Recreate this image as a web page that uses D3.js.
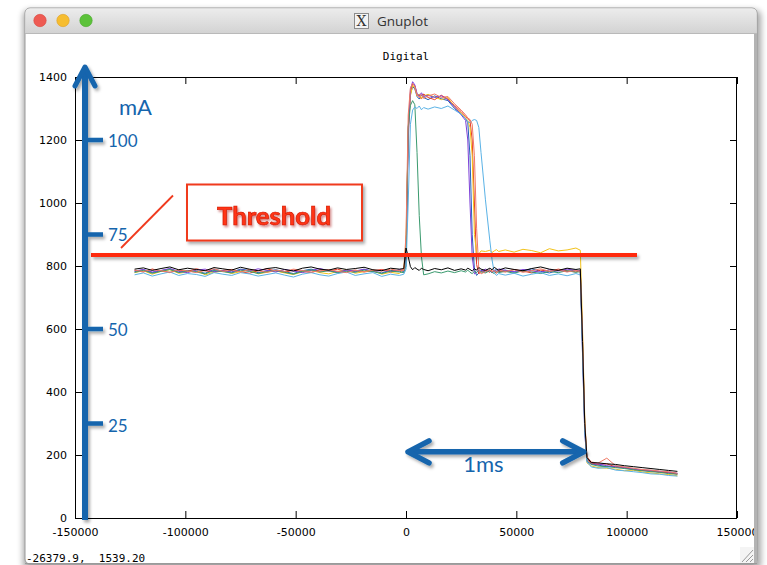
<!DOCTYPE html>
<html><head><meta charset="utf-8">
<script src="https://cdn.jsdelivr.net/npm/d3@7"></script>
<style>
html,body{margin:0;padding:0;background:#fff;}
svg{display:block;}
</style></head><body>
<svg id="c" width="767" height="565"></svg>
<script>
const windowTitle = "Gnuplot";
const chartTitle = "Digital";
const statusText = "-26379.9,  1539.20";
const xTicks = [-150000,-100000,-50000,0,50000,100000,150000];
const yTicks = [0,200,400,600,800,1000,1200,1400];
const mATicks = [25,50,75,100];
const mAUnit = "mA";
const thresholdValue = 835;
const thresholdLabel = "Threshold";
const spanLabel = "1ms";
const spanStart = 0, spanEnd = 81000, spanLevel = 210;

const xValues = [
-123000,-119000,-115000,-111000,-107000,-103000,-99000,-95000,-91000,-87000,
-83000,-79000,-75000,-71000,-67000,-63000,-59000,-55000,-51000,-47000,
-43000,-39000,-35000,-31000,-27000,-23000,-19000,-15000,-11000,-7000,
-3000,-1000,0,1000,2000,3000,4000,5000,6000,7000,
8000,10000,13000,16000,19000,22000,25000,27000,28000,29000,
30000,31000,32000,33000,34000,36000,38000,39000,40000,41000,
42000,45000,49000,53000,57000,61000,65000,69000,73000,77000,
79000,80000,81000,82000,84000,87000,91000,95000,99000,103000,
107000,111000,115000,119000,123000];

const blueRun = [
782,788,779,785,791,780,786,783,777,789,
784,781,790,786,779,784,788,782,776,785,
790,783,787,780,785,782,789,784,778,786,
783,781,830,1240,1345,1370,1362,1338,1330,1342,
1335,1328,1340,1331,1325,1300,1282,1268,1255,1150,
900,790,770,778,786,781,788,779,784,790,
782,787,780,785,791,783,778,786,782,788,
783,560,300,190,172,168,163,165,158,156,
152,149,147,143,141];
const redRun = [
786,781,790,784,779,787,783,791,785,780,
786,789,782,777,785,791,784,780,787,783,
779,788,784,790,782,787,781,785,789,783,
787,788,835,1230,1350,1378,1372,1345,1338,1330,
1346,1335,1328,1342,1330,1310,1290,1275,1268,1262,
1200,1000,805,775,782,787,780,789,783,777,
785,781,789,784,778,787,783,790,785,781,
786,540,285,185,175,170,172,162,160,154,
151,150,145,144,139];
const yellowRun = [
779,785,774,783,788,777,781,786,772,780,
784,776,782,787,775,780,785,778,773,781,
786,779,775,783,788,777,782,786,774,780,
776,790,880,1220,1340,1372,1368,1340,1346,1332,
1340,1345,1336,1328,1335,1305,1285,1270,1262,1240,
1150,900,842,838,848,846,850,843,848,852,
846,851,844,853,849,842,855,848,851,857,
850,600,320,175,165,160,158,155,150,152,
146,143,140,138,134];
const purpleRun = [
784,789,781,786,792,783,779,787,790,782,
785,780,788,784,791,786,781,789,784,779,
786,792,785,781,787,784,790,783,786,781,
788,784,800,1200,1360,1385,1375,1348,1340,1350,
1338,1342,1335,1340,1328,1305,1280,1262,1200,1000,
830,775,780,788,783,790,784,779,787,783,
791,786,782,789,785,780,788,784,790,786,
784,520,270,180,170,172,166,162,161,155,
153,151,148,146,142];
const greenRun = [
780,786,777,783,789,779,784,781,775,786,
782,778,787,783,776,782,786,780,774,783,
788,781,785,778,783,780,787,782,776,784,
781,779,800,1240,1310,1325,1312,1160,960,830,
772,775,782,778,784,779,785,781,787,780,
776,783,779,786,781,778,785,780,776,784,
779,783,777,785,781,776,783,779,785,780,
782,550,290,182,170,165,163,160,157,153,
150,147,145,141,139];
const lightBlueRun = [
772,778,768,775,781,770,776,773,767,779,
774,770,779,775,768,773,778,771,765,774,
779,772,768,776,781,770,775,779,767,774,
770,774,790,1000,1250,1295,1305,1300,1308,1296,
1303,1298,1305,1300,1308,1295,1282,1268,1258,1255,
1262,1265,1262,1240,1160,1010,880,820,778,770,
776,771,777,768,774,779,770,775,769,776,
772,520,275,178,162,158,160,152,150,147,
144,140,139,135,133];
const salmonRun = [
787,782,790,785,780,788,784,779,786,791,
783,787,781,789,785,780,787,783,790,786,
781,784,789,783,779,786,782,788,784,790,
785,786,900,1280,1365,1380,1370,1342,1335,1345,
1332,1340,1346,1335,1338,1315,1295,1280,1270,1265,
1250,1150,920,790,775,782,788,781,786,780,
787,783,788,780,785,791,783,787,781,786,
783,580,310,195,178,174,190,166,162,158,
154,152,149,147,142];
const blackRun = [
790,794,786,792,797,788,793,789,785,795,
791,787,796,790,785,792,795,789,784,793,
797,790,787,794,789,792,796,788,785,793,
790,792,857,830,798,788,795,790,786,793,
789,785,792,788,794,786,791,787,793,789,
784,791,787,795,790,786,793,788,796,791,
787,794,789,785,792,797,790,786,793,789,
791,560,300,192,176,175,172,170,166,163,
160,157,154,151,148];

const seriesNames = ["blue","red","yellow","purple","green","lightblue","salmon","black"];
const seriesData = [blueRun,redRun,yellowRun,purpleRun,greenRun,lightBlueRun,salmonRun,blackRun];
const seriesColors = ["#2460b8","#e83a26","#f2c21a","#7d3fd8","#3a9a6e","#5ab2e6","#f07a66","#000000"];

const svg = d3.select("#c");
const defs = svg.append("defs");
const sh = defs.append("filter").attr("id","sh").attr("filterUnits","userSpaceOnUse")
  .attr("x",0).attr("y",0).attr("width",767).attr("height",565);
sh.append("feDropShadow").attr("dx",2).attr("dy",2.5).attr("stdDeviation",1.4)
  .attr("flood-color","#000").attr("flood-opacity",0.33);
const blur = defs.append("filter").attr("id","blur").attr("filterUnits","userSpaceOnUse")
  .attr("x",0).attr("y",0).attr("width",767).attr("height",565);
blur.append("feGaussianBlur").attr("stdDeviation",3);
const glow = defs.append("filter").attr("id","glow").attr("filterUnits","userSpaceOnUse")
  .attr("x",0).attr("y",0).attr("width",767).attr("height",565);
glow.append("feDropShadow").attr("dx",1.5).attr("dy",2).attr("stdDeviation",1.2)
  .attr("flood-color","#a00000").attr("flood-opacity",0.45);
const tg = defs.append("linearGradient").attr("id","tb").attr("x1",0).attr("x2",0).attr("y1",0).attr("y2",1);
tg.append("stop").attr("offset",0).attr("stop-color","#ececec");
tg.append("stop").attr("offset",1).attr("stop-color","#d3d3d3");
defs.append("clipPath").attr("id","body").append("rect")
  .attr("x",26).attr("y",34).attr("width",728).attr("height",529);

// window
svg.append("rect").attr("x",23).attr("y",10).attr("width",738).attr("height",560).attr("rx",6)
  .attr("fill","#000").attr("opacity",0.35).attr("filter","url(#blur)");
svg.append("rect").attr("x",25).attr("y",8).attr("width",732).attr("height",556).attr("rx",5)
  .attr("fill","#fff").attr("stroke","#9a9a9a").attr("stroke-width",1);
svg.append("path").attr("d","M25.5,33 V13 Q25.5,8.5 30.5,8.5 H751.5 Q756.5,8.5 756.5,13 V33 Z")
  .attr("fill","url(#tb)");
svg.append("line").attr("x1",25).attr("x2",757).attr("y1",33.5).attr("y2",33.5).attr("stroke","#b9b9b9");
[["#ee5b53","#d8463e",40],["#f6bd30","#dea026",63],["#5cc23a","#49a82c",86]].forEach(d=>{
  svg.append("circle").attr("cx",d[2]).attr("cy",20.5).attr("r",6.2).attr("fill",d[0]).attr("stroke",d[1]).attr("stroke-width",0.6);
});
svg.append("rect").attr("x",354.5).attr("y",13.5).attr("width",14).attr("height",15)
  .attr("fill","#f3f3f3").attr("stroke","#8c8c8c");
svg.append("text").attr("x",361.5).attr("y",26).attr("text-anchor","middle")
  .attr("font-family","DejaVu Serif").attr("font-size",14).attr("fill","#333").text("X");
svg.append("text").attr("x",377).attr("y",25.5).attr("font-family","Open Sans")
  .attr("font-size",13.5).attr("fill","#333").text(windowTitle);

const body = svg.append("g").attr("clip-path","url(#body)");

const L=75,R=737,T=77,B=518;
const x = d3.scaleLinear().domain([-150000,150000]).range([L,R]);
const y = d3.scaleLinear().domain([0,1400]).range([B,T]);
const yMA = d3.scaleLinear().domain([0,1400/12]).range([B,T]);

body.append("text").attr("x",(L+R)/2).attr("y",60).attr("text-anchor","middle")
  .attr("font-family","DejaVu Sans Mono").attr("font-size",11).attr("fill","#000").text(chartTitle);

const fmt = d => String(d);
const axL = body.append("g").attr("transform",`translate(${L},0)`)
  .call(d3.axisLeft(y).tickValues(yTicks).tickSize(-7).tickPadding(8).tickFormat(fmt));
const axR = body.append("g").attr("transform",`translate(${R},0)`)
  .call(d3.axisRight(y).tickValues(yTicks).tickSize(-7).tickFormat(""));
const axB = body.append("g").attr("transform",`translate(0,${B})`)
  .call(d3.axisBottom(x).tickValues(xTicks).tickSize(-7).tickPadding(10).tickFormat(fmt));
const axT = body.append("g").attr("transform",`translate(0,${T})`)
  .call(d3.axisTop(x).tickValues(xTicks).tickSize(-7).tickFormat(""));
[axL,axR,axB,axT].forEach(a=>{
  a.select(".domain").remove();
  a.selectAll("line").attr("stroke","#000");
  a.selectAll("text").attr("font-family","DejaVu Sans").attr("font-size",11).attr("fill","#000");
});
body.append("rect").attr("x",L+0.5).attr("y",T+0.5).attr("width",R-L-1).attr("height",B-T)
  .attr("fill","none").attr("stroke","#000").attr("stroke-width",1);

const line = d3.line().x((d,i)=>x(xValues[i])).y(d=>y(d));
const plotG = body.append("g");
seriesData.forEach((s,k)=>{
  plotG.append("path").datum(s).attr("d",line).attr("fill","none")
    .attr("stroke",seriesColors[k]).attr("stroke-width",1).attr("stroke-linejoin","round")
    .attr("class","series-"+seriesNames[k]);
});

// annotations
const blue = "#1565ad";
const red = "#ff2a0a";
const ann = body.append("g");
ann.append("line").attr("x1",91).attr("x2",637).attr("y1",y(thresholdValue)).attr("y2",y(thresholdValue))
  .attr("stroke",red).attr("stroke-width",4).attr("filter","url(#sh)");
ann.append("rect").attr("x",187).attr("y",184.5).attr("width",175).attr("height",56)
  .attr("fill","#fff").attr("stroke","#f03a1e").attr("stroke-width",2).attr("filter","url(#sh)");
ann.append("text").attr("x",274).attr("y",225).attr("text-anchor","middle")
  .attr("font-family","Lato").attr("font-weight","bold").attr("font-size",24)
  .attr("textLength",114).attr("lengthAdjust","spacingAndGlyphs")
  .attr("fill","#ff3418").attr("stroke","#d01800").attr("stroke-width",0.6)
  .attr("filter","url(#glow)").text(thresholdLabel);
ann.append("line").attr("x1",121).attr("y1",248).attr("x2",173).attr("y2",195.5)
  .attr("stroke","#f03a1e").attr("stroke-width",1.8);

const va = ann.append("g").attr("filter","url(#sh)");
va.append("line").attr("x1",85).attr("x2",85).attr("y1",y(0)+2).attr("y2",67)
  .attr("stroke",blue).attr("stroke-width",6);
va.append("path").attr("d","M75,86 L85,67 L95,86").attr("fill","none")
  .attr("stroke",blue).attr("stroke-width",5).attr("stroke-linecap","round").attr("stroke-linejoin","round");
mATicks.forEach(m=>{
  va.append("line").attr("x1",86).attr("x2",103).attr("y1",yMA(m)).attr("y2",yMA(m))
    .attr("stroke",blue).attr("stroke-width",4.5);
});
mATicks.forEach(m=>{
  ann.append("text").attr("x",108).attr("y",yMA(m)+(m===25?8.5:6.5)).attr("font-family","Lato")
    .attr("font-size",17).attr("fill",blue).text(String(m));
});
ann.append("text").attr("x",119).attr("y",115).attr("font-family","Lato")
  .attr("font-size",22).attr("fill",blue).text(mAUnit);

const ha = ann.append("g").attr("filter","url(#sh)");
const hy = y(spanLevel), hx0 = x(spanStart)+2, hx1 = x(spanEnd)-1;
ha.append("line").attr("x1",hx0+3).attr("x2",hx1-3).attr("y1",hy).attr("y2",hy)
  .attr("stroke",blue).attr("stroke-width",5.5);
ha.append("path").attr("d",`M${hx0+21},${hy-11} L${hx0},${hy} L${hx0+21},${hy+11}`).attr("fill","none")
  .attr("stroke",blue).attr("stroke-width",5.5).attr("stroke-linecap","round").attr("stroke-linejoin","round");
ha.append("path").attr("d",`M${hx1-21},${hy-11} L${hx1},${hy} L${hx1-21},${hy+11}`).attr("fill","none")
  .attr("stroke",blue).attr("stroke-width",5.5).attr("stroke-linecap","round").attr("stroke-linejoin","round");
ann.append("text").attr("x",x((spanStart+spanEnd)/2)-12).attr("y",472).attr("text-anchor","middle")
  .attr("font-family","Lato").attr("font-size",22).attr("fill",blue).text(spanLabel);

body.append("text").attr("x",26).attr("y",562).attr("font-family","DejaVu Sans Mono").attr("font-size",11)
  .attr("fill","#000").attr("xml:space","preserve").style("white-space","pre").text(statusText);

svg.append("rect").attr("x",754).attr("y",34).attr("width",3).attr("height",530).attr("fill","#b3b3b3");
const grip = svg.append("g");
grip.append("rect").attr("x",740).attr("y",547).attr("width",14).attr("height",16).attr("fill","#f4f4f4");
[[742,562,753,550],[746,562,753,555],[750,562,753,559]].forEach(d=>{
  grip.append("line").attr("x1",d[0]).attr("y1",d[1]).attr("x2",d[2]).attr("y2",d[3])
    .attr("stroke","#9a9a9a").attr("stroke-width",1);
});
svg.append("line").attr("x1",25).attr("x2",757).attr("y1",563.5).attr("y2",563.5).attr("stroke","#9a9a9a");
</script>
</body></html>
